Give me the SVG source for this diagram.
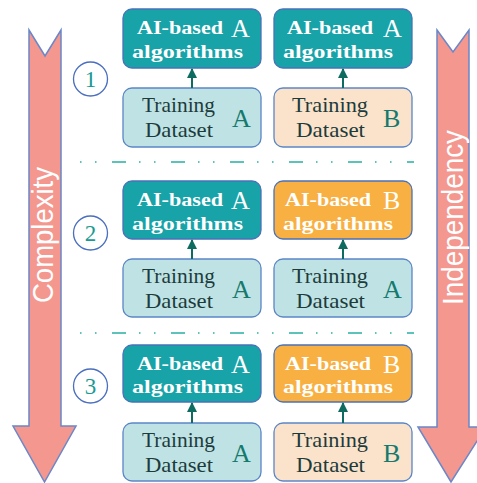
<svg xmlns="http://www.w3.org/2000/svg" width="477" height="483" viewBox="0 0 477 483">
<defs>
<style>
.ai{fill:#17a3a8;stroke:#4a72b8;stroke-width:1.3}
.aib{fill:#f8b042;stroke:#4a72b8;stroke-width:1.3}
.ta{fill:#bfe3e5;stroke:#5b86c6;stroke-width:1.3}
.tb{fill:#fbe3cb;stroke:#5b86c6;stroke-width:1.3}
.wt{font-family:"Liberation Serif",serif;font-weight:bold;font-size:18px;fill:#ffffff}
.wl{font-family:"Liberation Serif",serif;font-size:26px;fill:#ffffff}
.dt{font-family:"Liberation Serif",serif;font-size:21px;fill:#1d3b3b}
.dl{font-family:"Liberation Serif",serif;font-size:26px;fill:#157a6e}
.num{font-family:"Liberation Serif",serif;font-size:23px;fill:#1a9a93}
.circ{fill:#ffffff;stroke:#4a6fbf;stroke-width:1.3}
.big{fill:#f4978f;stroke:#6b87c9;stroke-width:1.5}
.side{font-family:"Liberation Sans",sans-serif;font-size:30px;fill:#ffffff}
.sep{stroke:#5cc2ba;stroke-width:1.8;stroke-dasharray:1.5 13.5 1.5 15.5 14 13;fill:none}
.con{stroke:#0d6b5f;stroke-width:2;fill:none}
</style>
<marker id="ah" viewBox="0 0 10 10" refX="9" refY="5" markerWidth="5" markerHeight="5" orient="auto">
<path d="M0,0 L10,5 L0,10 z" fill="#0d6b5f"/>
</marker>
</defs>

<g id="complexity-arrow">
<path class="big" d="M29,30 L45,56 L61,30 L61,426 L76,426 L44.5,482 L13,426 L29,426 Z"/>
<text class="side" transform="translate(53,303) rotate(-90)" textLength="136" lengthAdjust="spacingAndGlyphs">Complexity</text>
</g>
<g id="independency-arrow">
<path class="big" d="M437,30 L453,52 L469,30 L469,427 L486,427 L451,482 L418,427 L437,427 Z"/>
<text class="side" transform="translate(463,305) rotate(-90)" textLength="175" lengthAdjust="spacingAndGlyphs">Independency</text>
</g>

<g id="separators">
<line class="sep" x1="80" y1="162" x2="414" y2="162"/>
<line class="sep" x1="80" y1="333" x2="414" y2="333"/>
</g>

<g id="label-1"><circle class="circ" cx="90.5" cy="79" r="17"/><text class="num" x="90.5" y="87" text-anchor="middle">1</text></g>
<g id="label-2"><circle class="circ" cx="90.5" cy="233" r="17"/><text class="num" x="90.5" y="241" text-anchor="middle">2</text></g>
<g id="label-3"><circle class="circ" cx="90.5" cy="386" r="17"/><text class="num" x="90.5" y="394" text-anchor="middle">3</text></g>

<!-- Row 1 -->
<g id="r1-ai-left"><rect class="ai" x="123" y="9" width="138" height="59" rx="9"/>
<text class="wt" x="137" y="34" textLength="86" lengthAdjust="spacingAndGlyphs">AI-based</text>
<text class="wl" x="231" y="37">A</text>
<text class="wt" x="132" y="58" textLength="111" lengthAdjust="spacingAndGlyphs">algorithms</text></g>
<g id="r1-ai-right"><rect class="ai" x="274" y="9" width="138" height="59" rx="9"/>
<text class="wt" x="287" y="34" textLength="86" lengthAdjust="spacingAndGlyphs">AI-based</text>
<text class="wl" x="383" y="37">A</text>
<text class="wt" x="283" y="58" textLength="110" lengthAdjust="spacingAndGlyphs">algorithms</text></g>
<g id="r1-train-left"><rect class="ta" x="123" y="88" width="138" height="59" rx="9"/>
<text class="dt" x="142" y="112" textLength="73" lengthAdjust="spacingAndGlyphs">Training</text>
<text class="dt" x="145" y="137" textLength="68" lengthAdjust="spacingAndGlyphs">Dataset</text>
<text class="dl" x="232" y="127">A</text></g>
<g id="r1-train-right"><rect class="tb" x="274" y="88" width="138" height="59" rx="9"/>
<text class="dt" x="292" y="112" textLength="76" lengthAdjust="spacingAndGlyphs">Training</text>
<text class="dt" x="296" y="137" textLength="69" lengthAdjust="spacingAndGlyphs">Dataset</text>
<text class="dl" x="383" y="127">B</text></g>

<!-- Row 2 -->
<g id="r2-ai-left"><rect class="ai" x="123" y="181" width="138" height="58" rx="9"/>
<text class="wt" x="137" y="206" textLength="86" lengthAdjust="spacingAndGlyphs">AI-based</text>
<text class="wl" x="231" y="209">A</text>
<text class="wt" x="132" y="230" textLength="111" lengthAdjust="spacingAndGlyphs">algorithms</text></g>
<g id="r2-ai-right"><rect class="aib" x="274" y="181" width="138" height="58" rx="9"/>
<text class="wt" x="285" y="206" textLength="86" lengthAdjust="spacingAndGlyphs">AI-based</text>
<text class="wl" x="383" y="209">B</text>
<text class="wt" x="283" y="230" textLength="110" lengthAdjust="spacingAndGlyphs">algorithms</text></g>
<g id="r2-train-left"><rect class="ta" x="123" y="259" width="138" height="58" rx="9"/>
<text class="dt" x="142" y="283" textLength="73" lengthAdjust="spacingAndGlyphs">Training</text>
<text class="dt" x="145" y="308" textLength="68" lengthAdjust="spacingAndGlyphs">Dataset</text>
<text class="dl" x="232" y="298">A</text></g>
<g id="r2-train-right"><rect class="ta" x="274" y="259" width="138" height="58" rx="9"/>
<text class="dt" x="292" y="283" textLength="76" lengthAdjust="spacingAndGlyphs">Training</text>
<text class="dt" x="296" y="308" textLength="69" lengthAdjust="spacingAndGlyphs">Dataset</text>
<text class="dl" x="383" y="298">A</text></g>

<!-- Row 3 -->
<g id="r3-ai-left"><rect class="ai" x="123" y="345" width="138" height="57" rx="9"/>
<text class="wt" x="137" y="370" textLength="86" lengthAdjust="spacingAndGlyphs">AI-based</text>
<text class="wl" x="231" y="373">A</text>
<text class="wt" x="132" y="393" textLength="111" lengthAdjust="spacingAndGlyphs">algorithms</text></g>
<g id="r3-ai-right"><rect class="aib" x="274" y="345" width="138" height="57" rx="9"/>
<text class="wt" x="285" y="370" textLength="86" lengthAdjust="spacingAndGlyphs">AI-based</text>
<text class="wl" x="383" y="373">B</text>
<text class="wt" x="283" y="393" textLength="110" lengthAdjust="spacingAndGlyphs">algorithms</text></g>
<g id="r3-train-left"><rect class="ta" x="123" y="423" width="138" height="58" rx="9"/>
<text class="dt" x="142" y="447" textLength="73" lengthAdjust="spacingAndGlyphs">Training</text>
<text class="dt" x="145" y="472" textLength="68" lengthAdjust="spacingAndGlyphs">Dataset</text>
<text class="dl" x="232" y="462">A</text></g>
<g id="r3-train-right"><rect class="tb" x="274" y="423" width="138" height="58" rx="9"/>
<text class="dt" x="292" y="447" textLength="76" lengthAdjust="spacingAndGlyphs">Training</text>
<text class="dt" x="296" y="472" textLength="69" lengthAdjust="spacingAndGlyphs">Dataset</text>
<text class="dl" x="383" y="462">B</text></g>

<g id="connectors">
<line class="con" x1="192" y1="88" x2="192" y2="69" marker-end="url(#ah)"/>
<line class="con" x1="343" y1="88" x2="343" y2="69" marker-end="url(#ah)"/>
<line class="con" x1="192" y1="259" x2="192" y2="240" marker-end="url(#ah)"/>
<line class="con" x1="343" y1="259" x2="343" y2="240" marker-end="url(#ah)"/>
<line class="con" x1="192" y1="423" x2="192" y2="403" marker-end="url(#ah)"/>
<line class="con" x1="343" y1="423" x2="343" y2="403" marker-end="url(#ah)"/>
</g>
</svg>
